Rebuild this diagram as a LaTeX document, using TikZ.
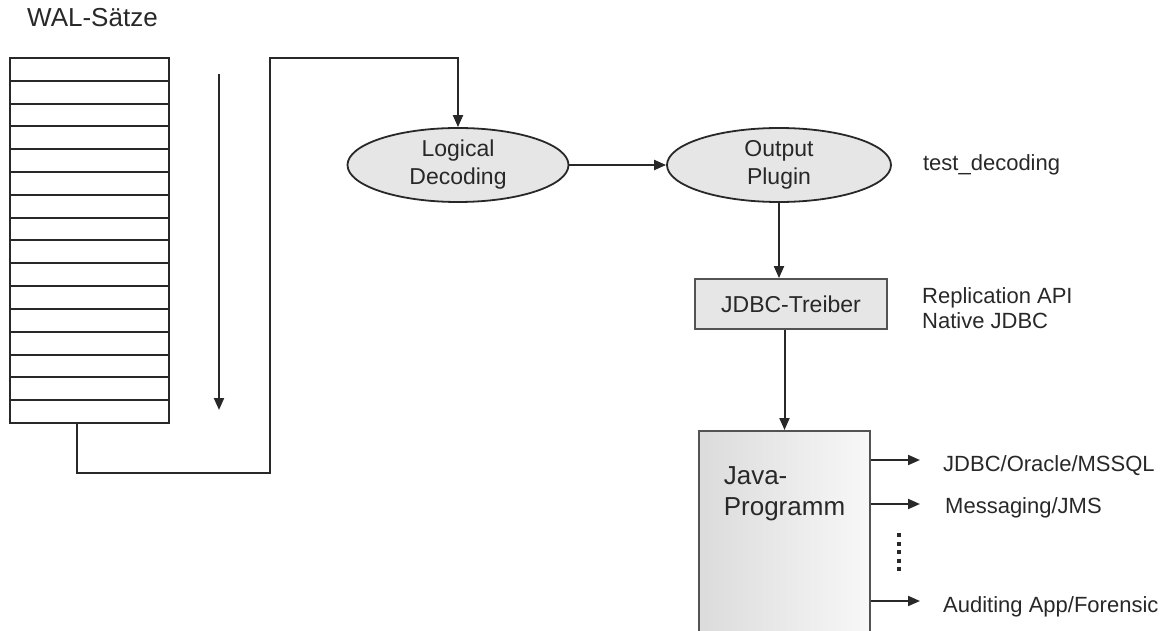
\documentclass[tikz,border=0pt]{standalone}
\usepackage{fontspec}
\setmainfont{Liberation Sans}
\usetikzlibrary{arrows.meta, positioning, shapes.geometric}
\definecolor{linie}{RGB}{40,40,40}
\definecolor{schrift}{RGB}{40,40,40}
\definecolor{fuellung}{RGB}{230,230,230}

\begin{document}
\begin{tikzpicture}
	[
	x=1pt, y=-1pt,
	node distance=30pt and 31pt,
        prozess/.style={
            ellipse,
            draw=linie,
            line width=1.8pt,
            fill=fuellung,
            minimum width=221pt,
            minimum height=74pt,
            inner sep=0pt,
            align=center,
            text=schrift,
            font=\fontsize{23}{28}\selectfont
        },
        treiber/.style={
            rectangle,
            draw=linie!80,
            line width=1.8pt,
            fill=fuellung,
            minimum width=192pt,
            minimum height=50pt,
            text=schrift,
            font=\fontsize{23}{27}\selectfont
        },
        programm/.style={
            rectangle,
            draw=linie!80,
            line width=1.8pt,
            left color=gray!28,
            right color=gray!6,
            minimum width=171pt,
            minimum height=215pt
        },
        tabelle/.style={
            rectangle,
            draw=linie,
            line width=2pt,
            minimum width=159pt,
            minimum height=365pt
        },
        beschriftung/.style={
            text=schrift,
            inner sep=0pt,
            align=left,
            font=\fontsize{22}{25}\selectfont
        },
        flussPfeil/.style={
            -{Triangle[length=12pt,width=10pt]},
            draw=linie,
            line width=2pt
        }
    ]
    \useasboundingbox (0,0) rectangle (1165,631);

    \node(walTitel) [beschriftung, anchor=base west, font=\fontsize{26}{28}\selectfont] at (27,27) {WAL-Sätze};
    \node(walSaetze) [tabelle] at (89.5,240.5) {};
    \foreach \i in {1,...,15}
        \draw[linie, line width=2pt] (10,{58+\i*22.81}) -- (169,{58+\i*22.81});

    \coordinate (leseStart) at (219,74);
    \coordinate (leseEnde) at (219,410);
    \draw[flussPfeil] (leseStart)--(leseEnde);

    \node(logical) [prozess] at (458,165) {Logical\\Decoding};
    \node(output) [prozess, minimum width=224pt] at (779,165) {Output\\Plugin};
    \node(testDecoding) [beschriftung, right=of output] {test\_decoding};

    \node(jdbc) [treiber] at (791,304) {JDBC-Treiber};
    \node(replication) [beschriftung, anchor=west] at (922,308) {Replication API\\Native JDBC};

    \node(java) [programm, anchor=north] at (784.5,430) {};
    \node(javaText) [beschriftung, font=\fontsize{26}{31}\selectfont] at (784.5,494) {Java-\\Programm};

    \node(zielJdbc) [beschriftung, anchor=base west] at (943,471) {JDBC/Oracle/MSSQL};
    \node(zielJms) [beschriftung, anchor=base west] at (945,513) {Messaging/JMS};
    \node(zielAudit) [beschriftung, anchor=base west] at (943,612) {Auditing App/Forensic};
    \coordinate (pfeilJdbc) at (920,460);
    \coordinate (pfeilJms) at (920,504);
    \coordinate (pfeilAudit) at (920,601);

    \coordinate (walAusgang) at (77,423);
    \coordinate (umlenkung) at (270,473);
    \coordinate (oben) at (270,58);
    \draw[flussPfeil] (walAusgang) |- (umlenkung) -- (oben) -| (logical.north);
    \draw[flussPfeil] (logical)--(output);
    \draw[flussPfeil] (output.south)--(output.south |- jdbc.north);
    \draw[flussPfeil] (jdbc.south -| java.north)--(java.north);
    \draw[flussPfeil] (java.east |- pfeilJdbc)--(pfeilJdbc);
    \draw[flussPfeil] (java.east |- pfeilJms)--(pfeilJms);
    \draw[flussPfeil] (java.east |- pfeilAudit)--(pfeilAudit);

    \coordinate (punkteOben) at (899,533);
    \coordinate (punkteUnten) at (899,575);
    \draw[linie, line width=4pt, dash pattern=on 4pt off 4.5pt] (punkteOben)--(punkteUnten);
\end{tikzpicture}
\end{document}
